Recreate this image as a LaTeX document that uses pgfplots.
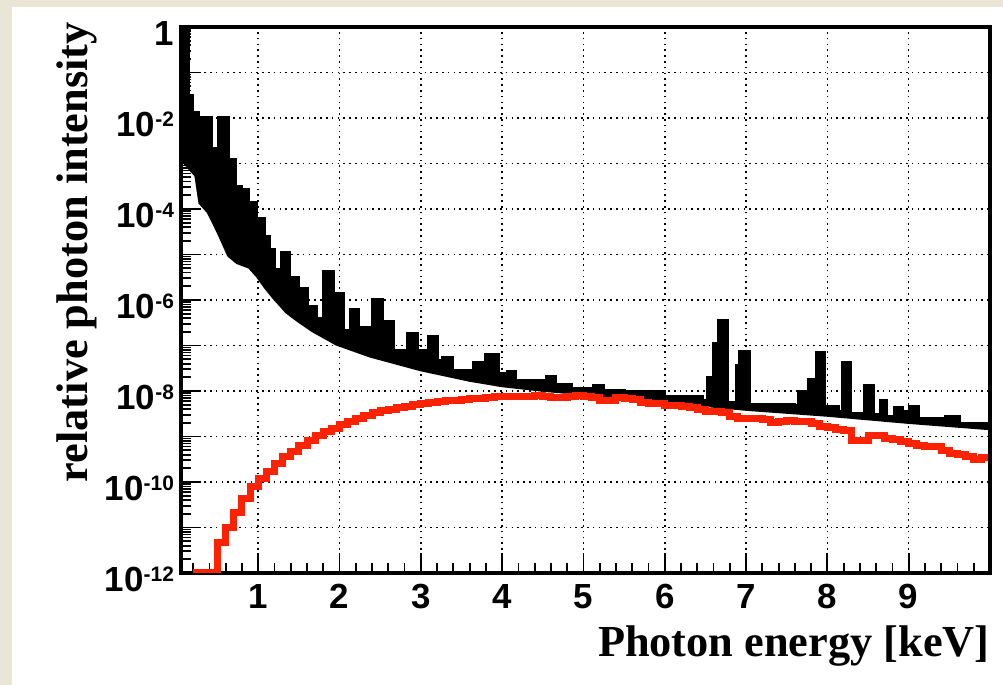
\documentclass[border=0pt]{standalone}
\usepackage{pgfplots}
\pgfplotsset{compat=1.18}
\usepgfplotslibrary{fillbetween}
\usepackage{fontspec}
\setmainfont{Liberation Serif}
\setsansfont{Liberation Sans}
\definecolor{bg}{RGB}{233,230,213}
\definecolor{rootred}{RGB}{255,34,0}
\newcommand{\E}[1]{10\raisebox{5bp}{\fontsize{10.5}{10.5}\selectfont #1}}
\begin{document}
\begin{tikzpicture}
\begin{axis}[
  set layers, clip mode=individual,
  at={(90.5bp,56bp)}, anchor=south west,
  scale only axis, width=404.5bp, height=273bp,
  ymode=log, xmin=0.05, xmax=10, ymin=1e-12, ymax=1,
  axis line style={line width=1.2bp, black},
  tick pos=left, tick align=inside,
  tick style={black, line width=0.9bp},
  major tick length=10bp, minor tick length=5bp,
  xtick={1,2,3,4,5,6,7,8,9},
  xticklabels={1,2,3,4,5,6,7,8,9},
  minor xtick={0.2,0.4,0.6,0.8,1.2,1.4,1.6,1.8,2.2,2.4,2.6,2.8,3.2,3.4,3.6,3.8,4.2,4.4,4.6,4.8,5.2,5.4,5.6,5.8,6.2,6.4,6.6,6.8,7.2,7.4,7.6,7.8,8.2,8.4,8.6,8.8,9.2,9.4,9.6,9.8},
  ytick={1e-12,1e-11,1e-10,1e-9,1e-8,1e-7,1e-6,1e-5,1e-4,1e-3,1e-2,1e-1,1},
  yticklabels={\E{-12},{},\E{-10},{},\E{-8},{},\E{-6},{},\E{-4},{},\E{-2},{},1},
  minor ytick={2e-12,3e-12,4e-12,5e-12,6e-12,7e-12,8e-12,9e-12,
    2e-11,3e-11,4e-11,5e-11,6e-11,7e-11,8e-11,9e-11,
    2e-10,3e-10,4e-10,5e-10,6e-10,7e-10,8e-10,9e-10,
    2e-9,3e-9,4e-9,5e-9,6e-9,7e-9,8e-9,9e-9,
    2e-8,3e-8,4e-8,5e-8,6e-8,7e-8,8e-8,9e-8,
    2e-7,3e-7,4e-7,5e-7,6e-7,7e-7,8e-7,9e-7,
    2e-6,3e-6,4e-6,5e-6,6e-6,7e-6,8e-6,9e-6,
    2e-5,3e-5,4e-5,5e-5,6e-5,7e-5,8e-5,9e-5,
    2e-4,3e-4,4e-4,5e-4,6e-4,7e-4,8e-4,9e-4,
    2e-3,3e-3,4e-3,5e-3,6e-3,7e-3,8e-3,9e-3,
    2e-2,3e-2,4e-2,5e-2,6e-2,7e-2,8e-2,9e-2,
    2e-1,3e-1,4e-1,5e-1,6e-1,7e-1,8e-1,9e-1},
  grid=major,
  major grid style={black, line width=0.8bp, dash pattern=on 0.8bp off 2.1bp},
  xticklabel style={font=\sffamily\bfseries\fontsize{17.5}{17.5}\selectfont, anchor=base, yshift=-17.5bp},
  yticklabel style={font=\sffamily\bfseries\fontsize{17.5}{17.5}\selectfont, anchor=base east, yshift=-9.5bp},
  xlabel={Photon energy [keV]},
  ylabel={relative photon intensity},
  every axis x label/.style={at={(axis description cs:1,-0.1538)}, anchor=base east, inner sep=0pt, font=\bfseries\fontsize{22.25}{24}\selectfont},
  every axis y label/.style={at={(axis description cs:-0.1162,1.0092)}, rotate=90, anchor=base east, inner sep=0pt, font=\bfseries\fontsize{22.25}{24}\selectfont},
]
\begin{pgfonlayer}{axis background}
\fill[bg] (axis description cs:-0.22373,-0.20513) rectangle (axis description cs:1.01607,1.04945);
\fill[white] (axis description cs:-0.2089,-0.20513) rectangle (axis description cs:1.01607,1.03663);
\end{pgfonlayer}
\addplot[name path=U, const plot mark left, black, line width=1.5bp] coordinates {
(0.05,1) (0.14,3.16e-2) (0.19,1.35e-2) (0.26,1.05e-2) (0.43,2.19e-3) (0.51,1.05e-2) (0.63,1.2e-3) (0.72,3.16e-4) (0.80,2.63e-4) (0.88,1.41e-4) (0.98,6.31e-5) (1.08,2.51e-5) (1.14,1.26e-5) (1.20,4.57e-6) (1.29,1.12e-5) (1.39,3.16e-6) (1.50,1.82e-6) (1.60,7.08e-7) (1.72,3.98e-7) (1.80,4.17e-6) (1.92,1.41e-6) (2.05,2.19e-7) (2.13,6.03e-7) (2.23,2.51e-7) (2.40,1e-6) (2.53,3.31e-7) (2.66,7.94e-8) (2.84,1.86e-7) (2.96,7.94e-8) (3.08,5.01e-8) (3.10,1.55e-7) (3.20,4.79e-8) (3.27,5.37e-8) (3.39,2.88e-8) (3.65,4.17e-8) (3.76,2.51e-8) (3.80,6.46e-8) (3.95,2.40e-8) (4.07,2.63e-8) (4.17,1.66e-8) (4.54,2.04e-8) (4.66,1.41e-8) (4.85,1.12e-8) (5.12,1.29e-8) (5.25,1.05e-8) (5.5,9.55e-9) (6.0,7.59e-9) (6.47,6.31e-9) (6.53,1.95e-8) (6.6,1.12e-7) (6.66,3.47e-7) (6.77,5.62e-9) (6.88,3.72e-8) (6.92,7.24e-8) (7.04,5.01e-9) (7.6,4.9e-9) (7.65,9.55e-9) (7.77,1.82e-8) (7.87,6.92e-8) (7.97,3.55e-9) (8.0,4.47e-9) (8.14,3.55e-9) (8.18,4.17e-8) (8.28,3.16e-9) (8.46,1.35e-8) (8.57,3.02e-9) (8.65,6.31e-9) (8.73,2.82e-9) (8.83,4.27e-9) (8.92,3.55e-9) (9.01,4.47e-9) (9.12,2.51e-9) (9.45,2.82e-9) (9.62,1.95e-9) (10,1.95e-9)};
\addplot[name path=L, black, line width=3bp] coordinates {
(0.05,1.41e-3) (0.15,8.91e-4) (0.25,5.62e-4) (0.30,1.41e-4) (0.40,8.91e-5) (0.47,5.01e-5) (0.55,2.51e-5) (0.65,1e-5) (0.75,7.08e-6) (0.90,5.62e-6) (1.0,3.55e-6) (1.1,2.0e-6) (1.2,1.2e-6) (1.36,5.75e-7) (1.5,3.72e-7) (1.68,2.24e-7) (1.97,1.15e-7) (2.38,6.31e-8) (3.0,3.16e-8) (3.6,1.86e-8) (4.0,1.41e-8) (4.5,1.12e-8) (5.0,9.33e-9) (6.0,6.31e-9) (7.0,4.27e-9) (8.0,3.16e-9) (9.0,2.2e-9) (10,1.6e-9)};
\addplot[black] fill between[of=U and L];
\draw[line width=2bp, black] (rel axis cs:0,0) rectangle (rel axis cs:1,1);
\addplot[const plot mark left, rootred, line width=3.5bp] coordinates {
(0.2,1e-12) (0.5,4.57e-12) (0.6,1.02e-11) (0.7,2.09e-11) (0.8,4.27e-11) (0.9,7.94e-11) (1.0,1.175e-10) (1.1,1.66e-10) (1.2,2.57e-10) (1.3,3.55e-10) (1.4,4.57e-10) (1.5,6.46e-10) (1.6,8.32e-10) (1.7,1.07e-9) (1.8,1.26e-9) (1.9,1.51e-9) (2.0,1.86e-9) (2.1,2.19e-9) (2.2,2.51e-9) (2.3,2.95e-9) (2.4,3.39e-9) (2.5,3.80e-9) (2.6,3.98e-9) (2.7,4.37e-9) (2.8,4.57e-9) (2.9,5.01e-9) (3.0,5.25e-9) (3.1,5.62e-9) (3.2,5.89e-9) (3.3,6.17e-9) (3.4,6.31e-9) (3.5,6.61e-9) (3.6,6.76e-9) (3.7,6.92e-9) (3.8,7.08e-9) (3.9,7.41e-9) (4.0,7.76e-9) (4.1,7.59e-9) (4.2,7.76e-9) (4.3,7.59e-9) (4.4,7.94e-9) (4.5,7.59e-9) (4.6,7.24e-9) (4.7,7.08e-9) (4.8,7.59e-9) (4.9,7.94e-9) (5.0,7.59e-9) (5.1,7.24e-9) (5.2,6.31e-9) (5.3,6.31e-9) (5.4,7.08e-9) (5.5,6.92e-9) (5.6,6.61e-9) (5.7,5.62e-9) (5.8,5.37e-9) (5.9,5.25e-9) (6.0,4.79e-9) (6.1,4.68e-9) (6.2,4.47e-9) (6.3,4.37e-9) (6.4,3.98e-9) (6.5,3.63e-9) (6.6,3.47e-9) (6.7,3.31e-9) (6.8,2.82e-9) (6.9,2.51e-9) (7.0,2.51e-9) (7.1,2.51e-9) (7.2,2.40e-9) (7.3,2.00e-9) (7.4,2.19e-9) (7.5,2.29e-9) (7.6,2.19e-9) (7.7,2.09e-9) (7.8,1.91e-9) (7.9,1.66e-9) (8.0,1.58e-9) (8.1,1.41e-9) (8.2,1.38e-9) (8.3,8.32e-10) (8.4,8.32e-10) (8.5,1.07e-9) (8.6,1.05e-9) (8.7,8.91e-10) (8.8,8.71e-10) (8.9,7.94e-10) (9.0,7.08e-10) (9.1,6.31e-10) (9.2,6.03e-10) (9.3,6.03e-10) (9.4,5.01e-10) (9.5,4.27e-10) (9.6,3.98e-10) (9.7,3.55e-10) (9.8,3.16e-10) (9.9,3.47e-10) (9.97,3.47e-10)};
\end{axis}
\pgfresetboundingbox
\path[use as bounding box] (0,0) rectangle (501.5bp,342.5bp);
\end{tikzpicture}
\end{document}
